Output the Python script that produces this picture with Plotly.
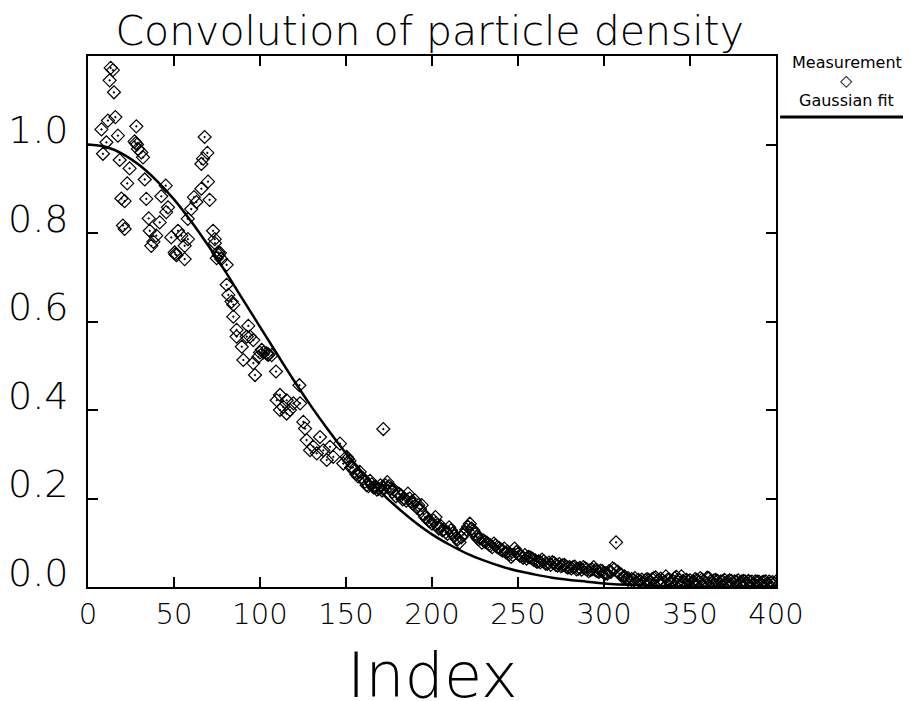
import plotly.graph_objects as go

# ---------------------------------------------------------
# Measured particle density (read from the reference picture)
# ---------------------------------------------------------
idx_head = [7.8, 8.7, 10.7, 11.6, 12.6, 13.2, 14.5, 15.1, 15.9, 17.4,
            18.4, 19.4, 20.3, 21.3, 21.3, 22.8, 24.2, 27.1, 27.8, 28.1,
            28.5, 29.0, 31.0, 32.0, 33.0, 33.9, 35.3, 35.9, 36.8, 38.0,
            39.7, 41.7, 42.6, 45.2, 45.5, 46.5, 48.4, 50.4, 50.8, 51.5,
            52.3, 54.3, 56.2, 56.2, 58.0, 58.1, 60.0, 61.6, 63.0, 65.9,
            65.9, 66.9, 67.8, 69.4, 69.8, 70.7, 72.7, 73.7, 73.8, 74.8,
            75.6, 76.0, 76.7, 77.5, 80.6, 80.6, 81.6, 83.5, 84.5, 84.5,
            86.4, 86.4, 89.4, 90.3, 92.3, 93.2, 94.2, 96.1, 96.1, 97.1,
            99.0, 100.0, 101.0, 102.0, 103.9, 104.5, 105.0, 106.8, 109.3, 109.7,
            111.6, 111.6, 113.5, 115.5, 115.5, 117.4, 119.4, 122.9, 123.3, 125.2,
            126.2, 127.1, 129.1, 131.0, 133.0, 134.9, 136.8, 138.8, 140.7, 142.6,
            146.5, 148.4, 150.4]
dens_head = [1.034, 0.979, 1.005, 1.054, 1.145, 1.173, 1.168, 1.118, 1.062, 1.020,
             0.965, 0.878, 0.817, 0.872, 0.809, 0.912, 0.946, 1.007, 1.003, 1.041,
             1.000, 0.990, 0.982, 0.971, 0.921, 0.877, 0.833, 0.805, 0.771, 0.780,
             0.794, 0.824, 0.883, 0.907, 0.847, 0.858, 0.790, 0.756, 0.752, 0.750,
             0.805, 0.794, 0.771, 0.741, 0.832, 0.786, 0.854, 0.881, 0.870, 0.900,
             0.956, 0.968, 1.017, 0.981, 0.916, 0.875, 0.805, 0.786, 0.777, 0.743,
             0.756, 0.750, 0.755, 0.741, 0.728, 0.683, 0.660, 0.645, 0.638, 0.611,
             0.581, 0.566, 0.543, 0.513, 0.566, 0.590, 0.566, 0.558, 0.506, 0.479,
             0.520, 0.530, 0.536, 0.530, 0.528, 0.525, 0.525, 0.524, 0.487, 0.422,
             0.434, 0.400, 0.407, 0.422, 0.392, 0.400, 0.415, 0.456, 0.415, 0.373,
             0.358, 0.332, 0.309, 0.317, 0.302, 0.339, 0.309, 0.287, 0.317, 0.294,
             0.324, 0.279, 0.294]

idx_tail = [152, 154, 156, 158, 160, 162, 164, 166, 168, 170,
            172, 174, 176, 178, 180, 182, 184, 186, 188, 190,
            192, 194, 196, 198, 200, 202, 204, 206, 208, 210,
            212, 214, 216, 218, 220, 222, 224, 226, 228, 230,
            232, 234, 236, 238, 240, 242, 244, 246, 248, 250,
            252, 254, 256, 258, 260, 262, 264, 266, 268, 270,
            272, 274, 276, 278, 280, 282, 284, 286, 288, 290,
            292, 294, 296, 298, 300, 302, 304, 306, 307, 308,
            310, 312, 314, 316, 318, 320, 322, 324, 326, 328,
            330, 332, 334, 336, 338, 340, 342, 344, 346, 348,
            350, 352, 354, 356, 358, 360, 362, 364, 366, 368,
            370, 372, 374, 376, 378, 380, 382, 384, 386, 388,
            390, 392, 394, 396, 398, 400, 171.7]
dens_tail = [0.285, 0.270, 0.255, 0.260, 0.245, 0.230, 0.240, 0.225, 0.220, 0.230,
             0.225, 0.237, 0.222, 0.219, 0.212, 0.207, 0.200, 0.211, 0.192, 0.196,
             0.185, 0.185, 0.158, 0.150, 0.143, 0.158, 0.132, 0.128, 0.124, 0.135,
             0.121, 0.110, 0.101, 0.118, 0.130, 0.143, 0.128, 0.113, 0.110, 0.105,
             0.100, 0.094, 0.098, 0.090, 0.085, 0.087, 0.080, 0.068, 0.087, 0.075,
             0.070, 0.072, 0.068, 0.065, 0.060, 0.058, 0.062, 0.053, 0.055, 0.056,
             0.050, 0.052, 0.049, 0.046, 0.045, 0.045, 0.040, 0.043, 0.045, 0.040,
             0.038, 0.045, 0.036, 0.037, 0.032, 0.030, 0.034, 0.040, 0.101, 0.035,
             0.028, 0.024, 0.020, 0.018, 0.020, 0.016, 0.017, 0.015, 0.016, 0.018,
             0.022, 0.016, 0.015, 0.024, 0.016, 0.014, 0.023, 0.015, 0.014, 0.016,
             0.015, 0.013, 0.016, 0.020, 0.014, 0.021, 0.013, 0.015, 0.014, 0.013,
             0.016, 0.012, 0.014, 0.013, 0.015, 0.012, 0.013, 0.014, 0.012, 0.013,
             0.012, 0.011, 0.013, 0.012, 0.011, 0.012, 0.357]

idx_odd = [151, 153, 155, 157, 159, 161, 163, 165, 167, 169,
           171, 173, 175, 177, 179, 181, 183, 185, 187, 189,
           191, 193, 195, 197, 199, 201, 203, 205, 207, 209,
           211, 213, 215, 217, 219, 221, 223, 225, 227, 229,
           231, 233, 235, 237, 239, 241, 243, 245, 247, 249,
           251, 253, 255, 257, 259, 261, 263, 265, 267, 269,
           271, 273, 275, 277, 279, 281, 283, 285, 287, 289,
           291, 293, 295, 297, 299, 301, 303, 305, 309,
           311, 313, 315, 317, 319, 321, 323, 325, 327, 329,
           331, 333, 335, 337, 339, 341, 343, 345, 347, 349,
           351, 353, 355, 357, 359, 361, 363, 365, 367, 369,
           371, 373, 375, 377, 379, 381, 383, 385, 387, 389,
           391, 393, 395, 397, 399]
dens_odd = [0.290, 0.270, 0.262, 0.250, 0.248, 0.238, 0.228, 0.232, 0.226, 0.222,
            0.218, 0.230, 0.228, 0.215, 0.205, 0.210, 0.198, 0.195, 0.200, 0.188,
            0.180, 0.176, 0.165, 0.155, 0.148, 0.150, 0.140, 0.138, 0.130, 0.120,
            0.128, 0.115, 0.108, 0.112, 0.122, 0.136, 0.132, 0.120, 0.108, 0.100,
            0.102, 0.096, 0.090, 0.094, 0.088, 0.082, 0.078, 0.074, 0.072, 0.079,
            0.071, 0.066, 0.064, 0.067, 0.062, 0.057, 0.056, 0.058, 0.052, 0.050,
            0.054, 0.048, 0.047, 0.050, 0.044, 0.042, 0.046, 0.041, 0.039, 0.042,
            0.036, 0.040, 0.038, 0.034, 0.036, 0.031, 0.036, 0.042, 0.030,
            0.022, 0.019, 0.012, 0.017, 0.010, 0.014, 0.009, 0.018, 0.011, 0.020,
            0.012, 0.019, 0.010, 0.017, 0.009, 0.020, 0.011, 0.024, 0.010, 0.013,
            0.009, 0.018, 0.011, 0.017, 0.008, 0.020, 0.010, 0.016, 0.008, 0.013,
            0.009, 0.015, 0.008, 0.012, 0.009, 0.014, 0.008, 0.011, 0.007, 0.012,
            0.008, 0.012, 0.007, 0.010, 0.008]

idx_meas = idx_head + idx_tail + idx_odd
dens_meas = dens_head + dens_tail + dens_odd

# Gaussian fit (sampled off the drawn curve)
idx_fit = [0, 10, 20, 30, 40, 50, 60, 70, 80, 90, 100, 110, 120, 130, 140,
           150, 160, 170, 180, 190, 200, 210, 220, 230, 240, 250, 260, 270,
           280, 290, 300, 320, 340, 360, 380, 400]
dens_fit = [1.000, 0.995, 0.979, 0.953, 0.918, 0.876, 0.826, 0.771, 0.712,
            0.650, 0.588, 0.526, 0.465, 0.407, 0.353, 0.302, 0.257, 0.215,
            0.179, 0.147, 0.119, 0.096, 0.076, 0.060, 0.047, 0.036, 0.028,
            0.021, 0.016, 0.012, 0.008, 0.004, 0.002, 0.001, 0.0005, 0.0002]

FONT = "DejaVu Sans"

fig = go.Figure()
fig.add_trace(go.Scatter(
    x=idx_meas, y=dens_meas, mode="markers", name="Measurement",
    marker=dict(symbol="diamond-open-dot", size=10, color="black",
                line=dict(width=1.2, color="black")),
))
fig.add_trace(go.Scatter(
    x=idx_fit, y=dens_fit, mode="lines", name="Gaussian fit",
    line=dict(color="black", width=2.5, shape="spline"),
))

axis_common = dict(
    showline=True, linecolor="black", linewidth=2, mirror="ticks",
    ticks="inside", ticklen=10, tickwidth=1.5, tickcolor="black",
    showgrid=False, zeroline=False, automargin=False,
)
fig.update_xaxes(
    range=[0, 400], tickvals=[0, 50, 100, 150, 200, 250, 300, 350, 400],
    tickfont=dict(family=FONT, size=29, color="black", weight=200),
    **axis_common,
)
fig.update_yaxes(
    range=[0, 1.2], tickvals=[0, 0.2, 0.4, 0.6, 0.8, 1.0],
    ticktext=["0.0", "0.2", "0.4", "0.6", "0.8", "1.0"],
    ticklabelposition="outside top", ticklabelshift=13, ticklabelstandoff=10,
    tickfont=dict(family=FONT, size=38, color="black", weight=200),
    **axis_common,
)

# x axis title as an annotation so it can sit low like the original
fig.add_annotation(xref="paper", yref="paper", x=0.5, y=-0.166, text="Index",
                   showarrow=False, xanchor="center", yanchor="middle",
                   font=dict(family=FONT, size=62, color="black", weight=200))

# hand-made legend at the right, like the original
legend_font = dict(family=FONT, size=16, color="black")
fig.add_annotation(xref="paper", yref="paper", x=1.103, y=0.987, text="Measurement",
                   showarrow=False, xanchor="center", yanchor="middle", font=legend_font)
fig.add_annotation(xref="paper", yref="paper", x=1.103, y=0.953, text="◇",
                   showarrow=False, xanchor="center", yanchor="middle", font=legend_font)
fig.add_annotation(xref="paper", yref="paper", x=1.103, y=0.917, text="Gaussian fit",
                   showarrow=False, xanchor="center", yanchor="middle", font=legend_font)
fig.add_shape(type="line", xref="paper", yref="paper", x0=1.006, x1=1.2, y0=0.885,
              y1=0.885, line=dict(color="black", width=3))

# the page body adds an 8px margin, so the figure is sized to fit the window
fig.update_layout(
    width=903, height=693,
    margin=dict(l=80, r=135, t=48, b=114),
    paper_bgcolor="white", plot_bgcolor="white",
    showlegend=False,
    title=dict(text="Convolution of particle density", x=0.467, xanchor="center",
               y=0.968, yanchor="middle",
               font=dict(family=FONT, size=41, color="black", weight=200)),
)

fig.write_html("out.html")
